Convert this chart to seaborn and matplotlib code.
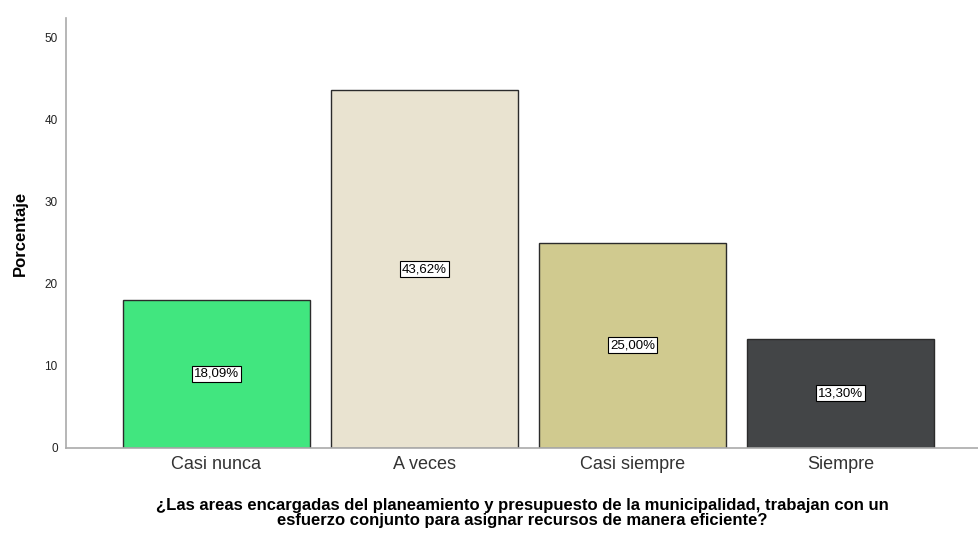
import pandas as pd
import matplotlib
matplotlib.use('Agg')
import matplotlib.pyplot as plt
import seaborn as sns

categories = ['Casi nunca', 'A veces', 'Casi siempre', 'Siempre']
percentages = [18.09, 43.62, 25.00, 13.30]
bar_colors = ['#41E67F', '#E9E3D0', '#D0CA8F', '#434547']
y_ticks = [0, 10, 20, 30, 40, 50]

sns.set_theme(style='white')
plt.rcParams['font.family'] = ['Liberation Sans', 'DejaVu Sans']

df = pd.DataFrame({'Respuesta': categories, 'Porcentaje': percentages})

fig = plt.figure(figsize=(9.79, 5.33), dpi=100)
ax = fig.add_axes([0.0674, 0.1595, 0.9326, 0.8065])

sns.barplot(x='Respuesta', y='Porcentaje', hue='Respuesta', data=df,
            palette=bar_colors, width=0.9, saturation=1, legend=False,
            edgecolor='#2b2b2b', linewidth=1, ax=ax)

for i, val in enumerate(percentages):
    ax.text(i, val / 2, f'{val:.2f}%'.replace('.', ','), ha='center',
            va='center', fontsize=9.5, color='black',
            bbox=dict(boxstyle='square,pad=0.15', fc='white', ec='black',
                      lw=0.8))

ax.set_xlim(-0.7236, 3.666)
ax.set_ylim(0, 52.4)
ax.set_yticks(y_ticks)
ax.tick_params(axis='y', labelsize=8.5, length=0, pad=6, colors='#222222')
ax.tick_params(axis='x', labelsize=13, length=0, pad=6, colors='#333333')

for side in ['top', 'right']:
    ax.spines[side].set_visible(False)
for side in ['left', 'bottom']:
    ax.spines[side].set_color('#aaaaaa')
    ax.spines[side].set_linewidth(1.2)

ax.set_ylabel('Porcentaje', fontsize=12, fontweight='bold', labelpad=12,
              color='black')
ax.set_xlabel('¿Las areas encargadas del planeamiento y presupuesto de la '
              'municipalidad, trabajan con un\nesfuerzo conjunto para '
              'asignar recursos de manera eficiente?',
              fontsize=12, fontweight='bold', labelpad=18, linespacing=0.95,
              color='black')

plt.savefig('out.png', dpi=100)
